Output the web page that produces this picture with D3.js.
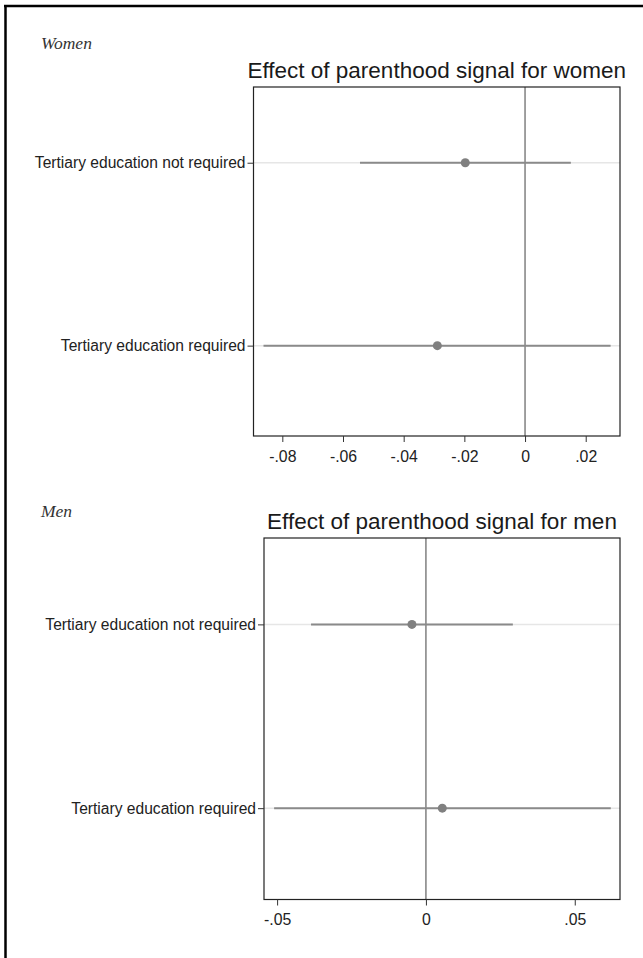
<!DOCTYPE html>
<html>
<head>
<meta charset="utf-8">
<script src="https://cdn.jsdelivr.net/npm/d3@7"></script>
<style>
  html, body { margin: 0; padding: 0; background: #fff; }
  svg { display: block; }
</style>
</head>
<body>
<svg id="chart" width="643" height="958"></svg>
<script>
// ---- data ----
const categories = ["Tertiary education not required", "Tertiary education required"];

const womenEstimate = [-0.0197, -0.0289];
const womenLower    = [-0.0544, -0.0862];
const womenUpper    = [ 0.0151,  0.0282];
const womenTicks    = [-0.08, -0.06, -0.04, -0.02, 0, 0.02];

const menEstimate = [-0.0047, 0.0055];
const menLower    = [-0.0386, -0.0510];
const menUpper    = [ 0.0292,  0.0621];
const menTicks    = [-0.05, 0, 0.05];

const panelLabels = ["Women", "Men"];
const panelTitles = ["Effect of parenthood signal for women", "Effect of parenthood signal for men"];

// ---- layout ----
const svg = d3.select("#chart");
const font = "'Liberation Sans', Arial, Helvetica, sans-serif";

// outer frame (left + top lines)
svg.append("line").attr("x1", 5.5).attr("x2", 5.5).attr("y1", 5).attr("y2", 958)
  .attr("stroke", "#000").attr("stroke-width", 2.5);
svg.append("line").attr("x1", 4).attr("x2", 643).attr("y1", 6).attr("y2", 6)
  .attr("stroke", "#000").attr("stroke-width", 2.5);

const panels = [
  { label: panelLabels[0], title: panelTitles[0], est: womenEstimate, lo: womenLower, hi: womenUpper,
    ticks: womenTicks, xDomain: [-0.0895, 0.0313], yDomain: [0.586, 2.494],
    box: { x0: 253.5, x1: 620, y0: 87, y1: 436 }, labelPos: [41, 49] },
  { label: panelLabels[1], title: panelTitles[1], est: menEstimate, lo: menLower, hi: menUpper,
    ticks: menTicks, xDomain: [-0.0544, 0.0652], yDomain: [0.53, 2.497],
    box: { x0: 264, x1: 620, y0: 538, y1: 899.5 }, labelPos: [41, 517] }
];

const fmt = v => {
  if (v === 0) return "0";
  const s = String(+v.toFixed(4));
  return s.replace(/^(-?)0\./, "$1.");
};

panels.forEach(p => {
  const b = p.box;
  const x = d3.scaleLinear().domain(p.xDomain).range([b.x0, b.x1]);
  const y = d3.scaleLinear().domain(p.yDomain).range([b.y0, b.y1]);
  const g = svg.append("g");

  // panel label
  g.append("text").attr("x", p.labelPos[0]).attr("y", p.labelPos[1])
    .attr("font-family", "'Liberation Serif', 'DejaVu Serif', serif")
    .attr("font-style", "italic").attr("font-size", 17.5).attr("fill", "#333")
    .text(p.label);

  // title
  g.append("text").attr("x", (b.x0 + b.x1) / 2).attr("y", b.y0 - 9)
    .attr("text-anchor", "middle").attr("font-family", font)
    .attr("font-size", 22.5).attr("fill", "#1a1a1a").text(p.title);

  const rows = categories.map((c, i) => ({ cat: c, pos: i + 1, est: p.est[i], lo: p.lo[i], hi: p.hi[i] }));

  // light grid lines
  g.selectAll(".grid").data(rows).join("line")
    .attr("x1", b.x0).attr("x2", b.x1)
    .attr("y1", d => y(d.pos)).attr("y2", d => y(d.pos))
    .attr("stroke", "#e6e6e6").attr("stroke-width", 1.5);

  // zero line
  g.append("line").attr("x1", x(0)).attr("x2", x(0)).attr("y1", b.y0).attr("y2", b.y1)
    .attr("stroke", "#777").attr("stroke-width", 1.4);

  // CI
  g.selectAll(".ci").data(rows).join("line")
    .attr("x1", d => x(d.lo)).attr("x2", d => x(d.hi))
    .attr("y1", d => y(d.pos)).attr("y2", d => y(d.pos))
    .attr("stroke", "#8a8a8a").attr("stroke-width", 2);

  // points
  g.selectAll(".pt").data(rows).join("circle")
    .attr("cx", d => x(d.est)).attr("cy", d => y(d.pos)).attr("r", 4.5)
    .attr("fill", "#808080");

  // box
  g.append("rect").attr("x", b.x0).attr("y", b.y0)
    .attr("width", b.x1 - b.x0).attr("height", b.y1 - b.y0)
    .attr("fill", "none").attr("stroke", "#222").attr("stroke-width", 1.2);

  // x axis
  const xAxis = d3.axisBottom(x).tickValues(p.ticks).tickFormat(fmt).tickSize(6).tickPadding(8.5);
  const xa = g.append("g").attr("transform", `translate(0,${b.y1})`).call(xAxis);
  xa.select(".domain").remove();
  xa.selectAll(".tick line").attr("stroke", "#333");
  xa.selectAll(".tick text").attr("font-family", font).attr("font-size", 15.8).attr("fill", "#222");

  // y axis
  const yAxis = d3.axisLeft(y).tickValues(rows.map(r => r.pos))
    .tickFormat((d, i) => categories[i]).tickSize(6).tickPadding(2);
  const ya = g.append("g").attr("transform", `translate(${b.x0},0)`).call(yAxis);
  ya.select(".domain").remove();
  ya.selectAll(".tick line").attr("stroke", "#333");
  ya.selectAll(".tick text").attr("font-family", font).attr("font-size", 15.6).attr("fill", "#222");
});
</script>
</body>
</html>
